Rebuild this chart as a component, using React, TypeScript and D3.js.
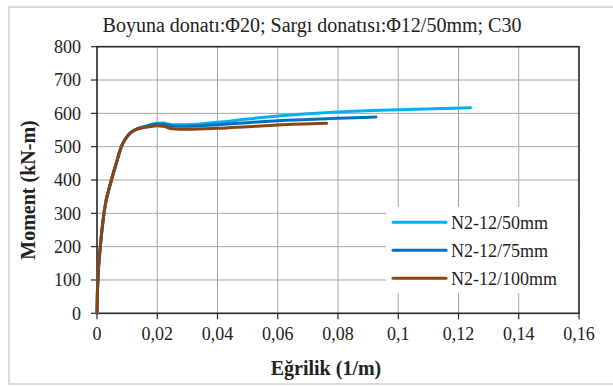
import React, { useEffect } from 'react';
import * as d3 from 'd3';

// Curvature (1/m) / moment (kN-m) readings per section
const curv50 = [0, 0.0001, 0.0003, 0.0011, 0.0023, 0.0048, 0.0064, 0.0081, 0.0092, 0.0109, 0.0126, 0.016, 0.02, 0.022, 0.025, 0.03, 0.04, 0.05, 0.06, 0.08, 0.1, 0.124];
const mom50 = [0, 50, 100, 200, 300, 400, 450, 500, 520, 540, 551, 561, 570, 571, 566, 566, 573, 583, 592, 604, 611, 617];

const curv75 = [0, 0.0001, 0.0003, 0.0011, 0.0023, 0.0048, 0.0064, 0.0081, 0.0092, 0.0109, 0.0126, 0.016, 0.02, 0.022, 0.025, 0.03, 0.04, 0.05, 0.06, 0.08, 0.0926];
const mom75 = [0, 50, 100, 200, 300, 400, 450, 500, 520, 540, 550, 560, 567, 567, 562, 561, 566, 572, 578, 585, 589];

const curv100 = [0, 0.0001, 0.0003, 0.0011, 0.0023, 0.0048, 0.0064, 0.0081, 0.0092, 0.0109, 0.0126, 0.016, 0.02, 0.022, 0.025, 0.03, 0.04, 0.05, 0.06, 0.0762];
const mom100 = [0, 50, 100, 200, 300, 400, 450, 500, 520, 540, 550, 558, 563, 561, 554, 552, 555, 560, 565, 570];

const seriesNames = ['N2-12/50mm', 'N2-12/75mm', 'N2-12/100mm'];
const seriesColors = ['#00B0F0', '#0070C0', '#8B4513'];

const xTicks = [0, 0.02, 0.04, 0.06, 0.08, 0.1, 0.12, 0.14, 0.16];
const yTicks = [0, 100, 200, 300, 400, 500, 600, 700, 800];

const chartTitle = 'Boyuna donatı:Φ20; Sargı donatısı:Φ12/50mm; C30';

const W = 613;
const H = 386;
const plot = { left: 97, right: 579, top: 46.7, bottom: 313.3 };

const fmt = (v: number) => String(v).replace('.', ',');

const App: React.FC = () => {
  useEffect(() => {
    document.body.style.margin = '0';
  }, []);

  const x = d3.scaleLinear().domain([0, 0.16]).range([plot.left, plot.right]);
  const y = d3.scaleLinear().domain([0, 800]).range([plot.bottom, plot.top]);

  const line = d3.line<[number, number]>()
    .x(d => x(d[0]))
    .y(d => y(d[1]))
    .curve(d3.curveMonotoneX);

  const series = [
    d3.zip(curv50, mom50) as [number, number][],
    d3.zip(curv75, mom75) as [number, number][],
    d3.zip(curv100, mom100) as [number, number][],
  ];

  const font = '"Liberation Serif", "Times New Roman", serif';
  const gridColor = '#a6a6a6';
  const axisColor = '#262626';

  return (
    <svg width={W} height={H} style={{ display: 'block', fontFamily: font }}>
      <rect x={0} y={0} width={W} height={H} fill="#fff" />
      <rect x={9} y={7} width={W} height={377} fill="#fff" stroke="#d0d0d0" strokeWidth={1.5} />

      <text x={312} y={32} textAnchor="middle" fontSize={20} fill="#222">{chartTitle}</text>

      {/* grid */}
      {xTicks.slice(1, -1).map(t => (
        <line key={'gx' + t} x1={x(t)} x2={x(t)} y1={plot.top} y2={plot.bottom} stroke={gridColor} strokeWidth={1} />
      ))}
      {yTicks.slice(1, -1).map(t => (
        <line key={'gy' + t} x1={plot.left} x2={plot.right} y1={y(t)} y2={y(t)} stroke={gridColor} strokeWidth={1} />
      ))}

      {/* legend box hides grid beneath it */}
      <rect x={386} y={207} width={192} height={86} fill="#fff" />

      {/* plot frame */}
      <rect x={plot.left} y={plot.top} width={plot.right - plot.left} height={plot.bottom - plot.top}
        fill="none" stroke={axisColor} strokeWidth={1.6} />

      {/* ticks */}
      {xTicks.map(t => (
        <g key={'xt' + t}>
          <line x1={x(t)} x2={x(t)} y1={plot.bottom} y2={plot.bottom + 6} stroke={axisColor} strokeWidth={1.2} />
          <text x={x(t)} y={340} textAnchor="middle" fontSize={18} fill="#222">{fmt(t)}</text>
        </g>
      ))}
      {yTicks.map(t => (
        <g key={'yt' + t}>
          <line x1={plot.left - 6} x2={plot.left} y1={y(t)} y2={y(t)} stroke={axisColor} strokeWidth={1.2} />
          <text x={81} y={y(t)} dy="0.35em" textAnchor="end" fontSize={18} fill="#222">{t}</text>
        </g>
      ))}

      {/* curves */}
      {series.map((s, i) => (
        <path key={seriesNames[i]} d={line(s) || ''} fill="none" stroke={seriesColors[i]}
          strokeWidth={3} strokeLinecap="round" strokeLinejoin="round" />
      ))}

      {/* legend */}
      {seriesNames.map((name, i) => (
        <g key={'lg' + name} transform={`translate(0, ${222.3 + i * 28})`}>
          <line x1={393} x2={446} y1={0} y2={0} stroke={seriesColors[i]} strokeWidth={3} strokeLinecap="round" />
          <text x={451} y={0} dy="0.35em" fontSize={18} fill="#222">{name}</text>
        </g>
      ))}

      {/* axis titles */}
      <text x={326} y={375} textAnchor="middle" fontSize={20} fontWeight="bold" fill="#222">Eğrilik (1/m)</text>
      <text transform="translate(35, 190) rotate(-90)" textAnchor="middle" fontSize={20} fontWeight="bold" fill="#222">Moment (kN-m)</text>
    </svg>
  );
};

export default App;
